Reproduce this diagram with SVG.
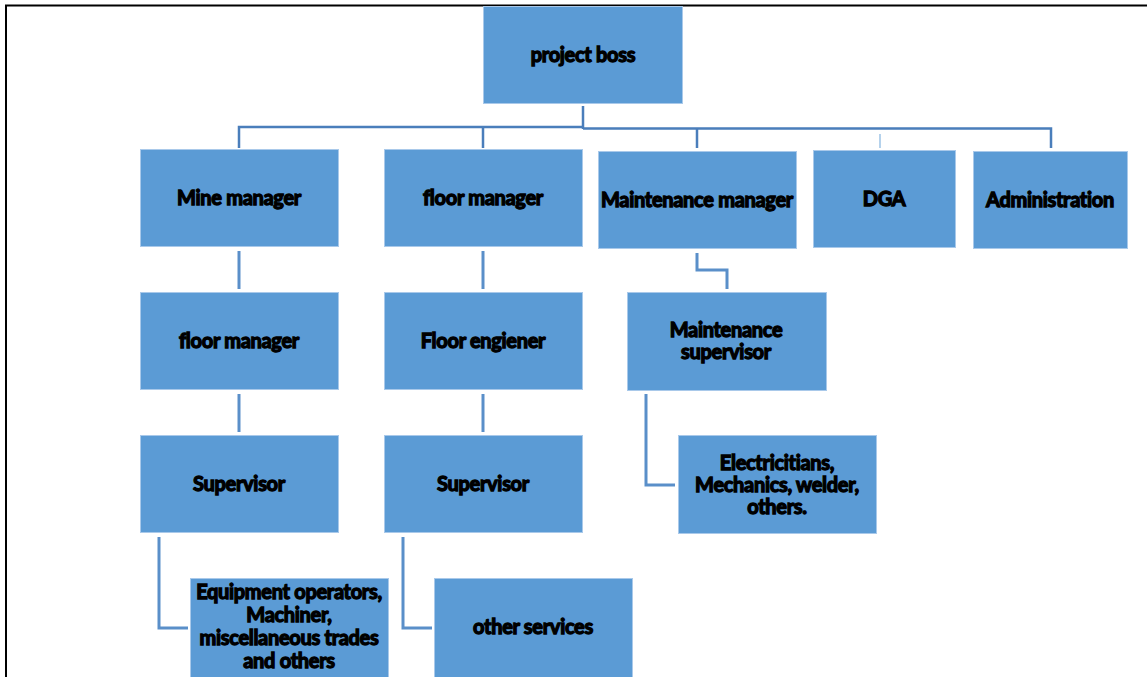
<svg xmlns="http://www.w3.org/2000/svg" width="1147" height="677" viewBox="0 0 1147 677">
  <style>
    .box { fill: #5B9BD5; stroke: #A9C9EA; stroke-width: 1; }
    .lbl { font-family: Lato, "Liberation Sans", sans-serif; font-weight: bold; font-size: 20px; fill: #000; stroke: #000; stroke-width: 1.3; text-anchor: middle; letter-spacing: -0.3px; }
    .wire { fill: none; stroke: #4A7EBB; stroke-width: 2.5; }
    .wire2 { fill: none; stroke: #5A8FC9; stroke-width: 3; }
    .frame { fill: none; stroke: #000; stroke-width: 2; }
  </style>

  <rect width="1147" height="677" fill="#fff"/>
  <!-- page frame -->
  <path class="frame" d="M6,677 V5.5 H1147"/>

  <g id="connectors">
    <!-- top bus -->
    <path class="wire" d="M583,106 V129"/>
    <path class="wire" d="M239,148 V127 H583"/>
    <path class="wire" d="M483,127 V148"/>
    <path class="wire" d="M583,128.5 H1051 V148"/>
    <path class="wire" d="M697,128.5 V148"/>
    <path d="M880,134 V148" fill="none" stroke="#9DC3E6" stroke-width="1.5"/>
    <!-- column 1 -->
    <path class="wire2" d="M239,251 V289"/>
    <path class="wire2" d="M239,394 V432"/>
    <path class="wire2" d="M159,537 V628 H188"/>
    <!-- column 2 -->
    <path class="wire2" d="M483,251 V289"/>
    <path class="wire2" d="M483,394 V432"/>
    <path class="wire2" d="M403,537 V628 H432"/>
    <!-- maintenance branch -->
    <path class="wire2" d="M697,253 V270 H727 V289"/>
    <path class="wire2" d="M646,394 V485 H675"/>
  </g>

  <g id="project-boss">
    <rect class="box" x="483.5" y="6.5" width="199" height="97"/>
    <text class="lbl" x="583" y="62">project boss</text>
  </g>

  <g id="mine-manager">
    <rect class="box" x="140.5" y="149.5" width="198" height="97"/>
    <text class="lbl" x="239" y="205">Mine manager</text>
  </g>
  <g id="floor-manager-a">
    <rect class="box" x="384.5" y="149.5" width="198" height="97"/>
    <text class="lbl" x="483" y="205">floor manager</text>
  </g>
  <g id="maintenance-manager">
    <rect class="box" x="598.5" y="151.5" width="198" height="97"/>
    <text class="lbl" x="697" y="207">Maintenance manager</text>
  </g>
  <g id="dga">
    <rect class="box" x="813.5" y="150.5" width="142" height="97"/>
    <text class="lbl" x="884" y="206">DGA</text>
  </g>
  <g id="administration">
    <rect class="box" x="973.5" y="151.5" width="154" height="97"/>
    <text class="lbl" x="1050" y="207">Administration</text>
  </g>

  <g id="floor-manager-b">
    <rect class="box" x="140.5" y="292.5" width="198" height="97"/>
    <text class="lbl" x="239" y="348">floor manager</text>
  </g>
  <g id="floor-engineer">
    <rect class="box" x="384.5" y="292.5" width="198" height="97"/>
    <text class="lbl" x="483" y="348">Floor engiener</text>
  </g>
  <g id="maintenance-supervisor">
    <rect class="box" x="627.5" y="292.5" width="199" height="98"/>
    <text class="lbl" x="726" y="337">Maintenance</text>
    <text class="lbl" x="726" y="359">supervisor</text>
  </g>

  <g id="supervisor-a">
    <rect class="box" x="140.5" y="435.5" width="198" height="97"/>
    <text class="lbl" x="239" y="491">Supervisor</text>
  </g>
  <g id="supervisor-b">
    <rect class="box" x="384.5" y="435.5" width="198" height="97"/>
    <text class="lbl" x="483" y="491">Supervisor</text>
  </g>
  <g id="trades">
    <rect class="box" x="678.5" y="435.5" width="198" height="98"/>
    <text class="lbl" x="777" y="470">Electricitians,</text>
    <text class="lbl" x="777" y="492">Mechanics, welder,</text>
    <text class="lbl" x="777" y="514">others.</text>
  </g>

  <g id="equipment-operators">
    <rect class="box" x="190.5" y="578.5" width="198" height="100"/>
    <text class="lbl" x="289" y="599">Equipment operators,</text>
    <text class="lbl" x="289" y="622">Machiner,</text>
    <text class="lbl" x="289" y="645">miscellaneous trades</text>
    <text class="lbl" x="289" y="668">and others</text>
  </g>
  <g id="other-services">
    <rect class="box" x="434.5" y="578.5" width="198" height="100"/>
    <text class="lbl" x="533" y="634">other services</text>
  </g>
</svg>
